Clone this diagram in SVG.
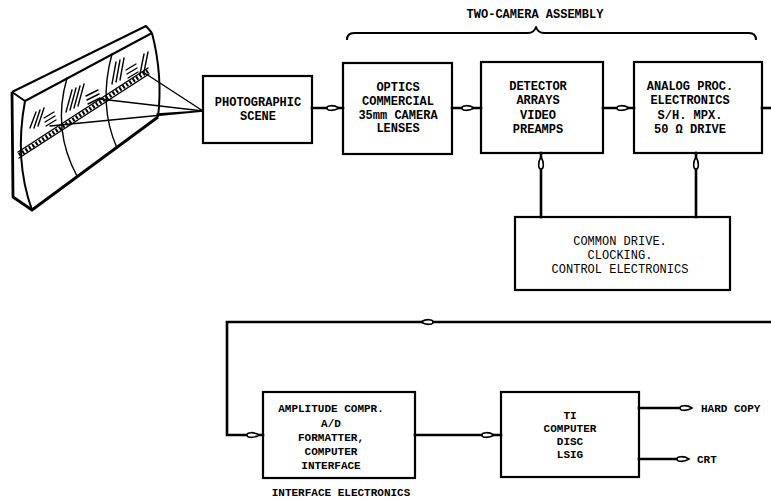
<svg xmlns="http://www.w3.org/2000/svg" width="771" height="500" viewBox="0 0 771 500">
  <style>
    .box { fill: #fff; stroke: #000; stroke-width: 2.2; }
    .lbl { font-family: "Liberation Mono", "DejaVu Sans Mono", monospace; font-weight: bold; font-size: 12px; fill: #000; text-anchor: middle; }
    .sm { font-size: 11px; }
    .light { font-weight: normal; }
    .start { text-anchor: start; }
    .wire { fill: none; stroke: #000; stroke-width: 2.6; stroke-linecap: square; }
    .thin { fill: none; stroke: #000; stroke-width: 1.4; stroke-linecap: round; stroke-linejoin: round; }
    .mid { fill: none; stroke: #000; stroke-width: 2; stroke-linejoin: round; }
    .heavy { fill: none; stroke: #000; stroke-width: 2.8; stroke-linejoin: round; }
  </style>
  <defs>
    <!-- lens-shaped flow mark, points along +x -->
    <path id="flow" d="M-6,0 C-6,-3 1,-3.2 6,0 C1,3.2 -6,3 -6,0 Z" fill="#fff" stroke="#000" stroke-width="1.6"/>
  </defs>
  <rect width="771" height="500" fill="#fff"/>

  <!-- curved display screen showing the photographic scene -->
  <g id="scene-screen">
    <!-- slab outline -->
    <path class="heavy" d="M12,92 L13,197 L32,210 L158,117"/>
    <path class="mid" d="M12,92 L146,26 L152,33"/>
    <path class="mid" d="M12,92 L25,101 L152,33"/>
    <path class="mid" d="M25,101 Q14,160 32,210"/>
    <path class="mid" d="M152,33 Q163,76 158,117"/>
    <!-- panel dividers -->
    <path class="thin" d="M67,78 Q52,130 77,176"/>
    <path class="thin" d="M112,54 Q98,105 117,148"/>
    <!-- beaded strip -->
    <path class="thin" d="M18,152 L148,68"/>
    <path class="thin" d="M19,158 L149,74"/>
    <path fill="none" stroke="#000" stroke-width="4" stroke-dasharray="2 2" d="M19,155 L148,71"/>
    <!-- photo marks, left panel -->
    <path class="thin" d="M30,128 L36,112 M34,128 L40,110 M38,126 L44,108 M44,118 L54,112 M45,122 L55,116 M46,126 L56,120"/>
    <!-- photo marks, middle panel -->
    <path class="thin" d="M66,112 L72,90 M70,110 L76,88 M74,108 L80,86 M78,106 L84,84 M86,96 L98,90 M87,100 L99,94 M88,104 L100,98"/>
    <!-- photo marks, right panel -->
    <path class="thin" d="M112,84 L116,62 M116,82 L120,60 M120,80 L124,58 M126,70 L136,64 M127,74 L137,68 M128,78 L138,72 M140,74 L144,54 M144,72 L148,52"/>
    <!-- rays to the scene box -->
    <path class="thin" d="M143,72 L203,111 M100,99 L203,111 M50,126 L203,111 M157,114 L203,111"/>
  </g>

  <g id="photographic-scene">
    <rect class="box" x="203" y="76" width="109" height="67"/>
    <text class="lbl" x="258" y="106">PHOTOGRAPHIC</text>
    <text class="lbl" x="258" y="120">SCENE</text>
  </g>

  <g id="optics">
    <rect class="box" x="343" y="63" width="109" height="91"/>
    <text class="lbl" x="398" y="91">OPTICS</text>
    <text class="lbl" x="398" y="105">COMMERCIAL</text>
    <text class="lbl" x="398" y="119">35mm CAMERA</text>
    <text class="lbl" x="398" y="132">LENSES</text>
  </g>

  <g id="detector">
    <rect class="box" x="481" y="62" width="122" height="91"/>
    <text class="lbl" x="538" y="90">DETECTOR</text>
    <text class="lbl" x="538" y="104">ARRAYS</text>
    <text class="lbl" x="538" y="119">VIDEO</text>
    <text class="lbl" x="538" y="133">PREAMPS</text>
  </g>

  <g id="analog-proc">
    <rect class="box" x="634" y="62" width="128" height="91"/>
    <text class="lbl" x="690" y="90">ANALOG PROC.</text>
    <text class="lbl" x="690" y="104">ELECTRONICS</text>
    <text class="lbl" x="690" y="119">S/H. MPX.</text>
    <text class="lbl" x="690" y="133">50 Ω DRIVE</text>
  </g>

  <g id="two-camera-assembly">
    <path class="mid" d="M347,40 Q347,33 354,33 L528,33 Q534,33 536,27 Q538,33 544,33 L749,33 Q756,33 756,40"/>
    <text class="lbl" x="535" y="18">TWO-CAMERA ASSEMBLY</text>
  </g>

  <g id="common-drive">
    <rect class="box" x="515" y="217" width="215" height="73"/>
    <text class="lbl light" x="620" y="245">COMMON DRIVE.</text>
    <text class="lbl light" x="620" y="259">CLOCKING.</text>
    <text class="lbl light" x="620" y="273">CONTROL ELECTRONICS</text>
  </g>

  <g id="interface-electronics">
    <rect class="box" x="263" y="392" width="152" height="86"/>
    <text class="lbl sm" x="331" y="412">AMPLITUDE COMPR.</text>
    <text class="lbl sm" x="331" y="427">A/D</text>
    <text class="lbl sm" x="331" y="441">FORMATTER,</text>
    <text class="lbl sm" x="331" y="455">COMPUTER</text>
    <text class="lbl sm" x="331" y="469">INTERFACE</text>
    <text class="lbl sm" x="341" y="496">INTERFACE ELECTRONICS</text>
  </g>

  <g id="ti-computer">
    <rect class="box" x="501" y="392" width="138" height="85"/>
    <text class="lbl sm" x="570" y="419">TI</text>
    <text class="lbl sm" x="570" y="432">COMPUTER</text>
    <text class="lbl sm" x="570" y="445">DISC</text>
    <text class="lbl sm" x="570" y="458">LSIG</text>
  </g>

  <g id="outputs">
    <text class="lbl sm start" x="701" y="412">HARD COPY</text>
    <text class="lbl sm start" x="697" y="463">CRT</text>
  </g>

  <g id="connectors">
    <path class="wire" d="M312,108 L343,108"/>
    <use href="#flow" transform="translate(333,108)"/>
    <path class="wire" d="M452,108 L481,108"/>
    <use href="#flow" transform="translate(468,108)"/>
    <path class="wire" d="M603,108 L634,108"/>
    <use href="#flow" transform="translate(623,108)"/>
    <path class="wire" d="M762,108 L771,108"/>

    <path class="wire" d="M541,217 L541,153"/>
    <use href="#flow" transform="translate(541,163) rotate(-90)"/>
    <path class="wire" d="M696,217 L696,153"/>
    <use href="#flow" transform="translate(696,163) rotate(-90)"/>

    <path class="wire" d="M771,322 L227,322 L227,435 L263,435"/>
    <use href="#flow" transform="translate(427,322) rotate(180)"/>
    <use href="#flow" transform="translate(253,435)"/>

    <path class="wire" d="M415,435 L501,435"/>
    <use href="#flow" transform="translate(488,435)"/>

    <path class="wire" d="M639,408 L686,408"/>
    <use href="#flow" transform="translate(686,408)"/>
    <path class="wire" d="M639,459 L683,459"/>
    <use href="#flow" transform="translate(683,459)"/>
  </g>
</svg>
